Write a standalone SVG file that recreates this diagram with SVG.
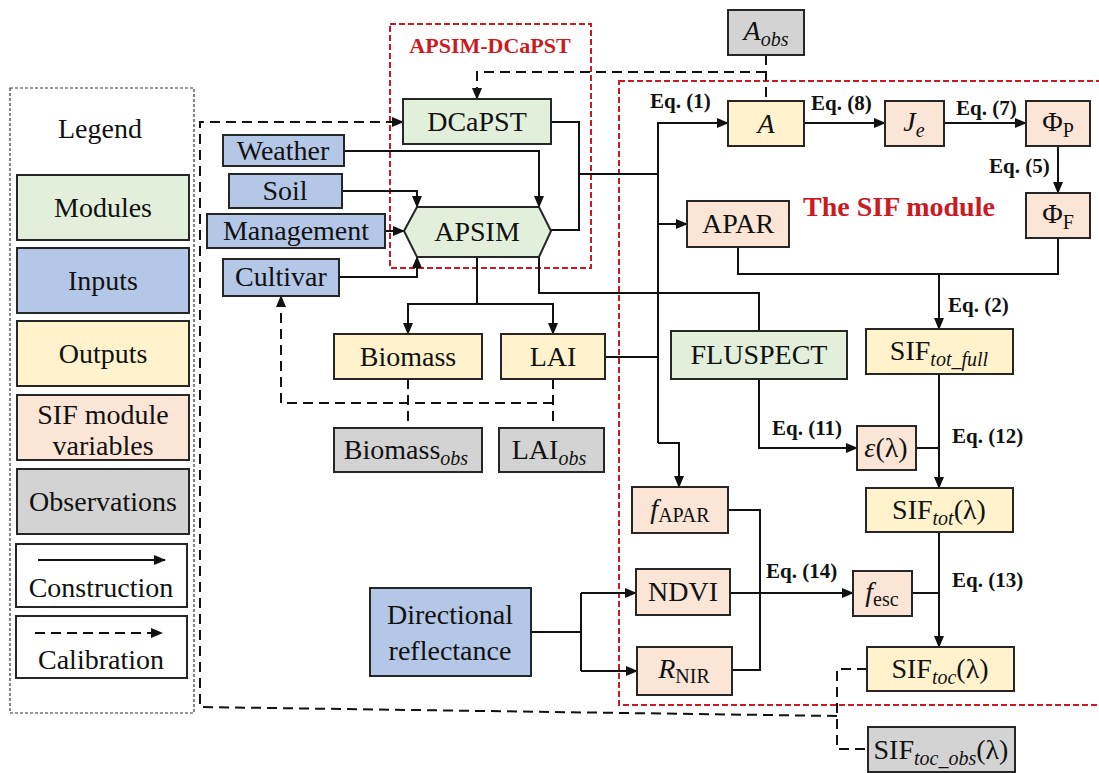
<svg xmlns="http://www.w3.org/2000/svg" width="1099" height="773" viewBox="0 0 1099 773">
<style>
.bx{stroke:#262626;stroke-width:2}
.g{fill:#e2efda}.b{fill:#b4c7e7}.y{fill:#fff2cc}.p{fill:#fbe5d6}.o{fill:#d3d3d3}.w{fill:#fff}
.t{font-family:"Liberation Serif","Times New Roman",serif;font-size:28px;text-anchor:middle;fill:#111}
.eq{font-family:"Liberation Serif","Times New Roman",serif;font-size:21px;font-weight:bold;fill:#111}
.red{font-family:"Liberation Serif","Times New Roman",serif;font-weight:bold;fill:#cc1a22}
.c{fill:none;stroke:#111;stroke-width:2}
.d{stroke-dasharray:10 6}
.rb{fill:none;stroke:#cc1a22;stroke-width:2;stroke-dasharray:6 3}
.i{font-style:italic}
</style>
<defs>
<marker id="ah" markerUnits="userSpaceOnUse" markerWidth="12" markerHeight="10" refX="11" refY="5" orient="auto">
<path d="M0,0 L12,5 L0,10 z" fill="#111"/>
</marker>
</defs>
<rect width="1099" height="773" fill="#fff"/>

<!-- red group boxes -->
<rect class="rb" x="390" y="24" width="201" height="244"/>
<text class="red" x="490" y="53" font-size="22" text-anchor="middle">APSIM-DCaPST</text>
<rect class="rb" x="619" y="81" width="485" height="624"/>
<text class="red" x="803" y="216" font-size="28">The SIF module</text>

<!-- Legend -->
<g id="legend">
<rect x="10" y="88" width="184" height="625" fill="none" stroke="#333" stroke-width="1.2" stroke-dasharray="3 2"/>
<text class="t" x="100" y="138">Legend</text>
<rect class="bx g" x="17" y="175" width="172" height="65"/><text class="t" x="103" y="217">Modules</text>
<rect class="bx b" x="17" y="248" width="172" height="65"/><text class="t" x="103" y="290">Inputs</text>
<rect class="bx y" x="17" y="321" width="172" height="65"/><text class="t" x="103" y="363">Outputs</text>
<rect class="bx p" x="17" y="395" width="172" height="65"/><text class="t" x="103" y="424">SIF module</text><text class="t" x="103" y="455">variables</text>
<rect class="bx o" x="17" y="469" width="172" height="65"/><text class="t" x="103" y="511">Observations</text>
<rect class="bx w" x="16" y="544" width="171" height="63"/>
<path class="c" d="M38 560 H165" marker-end="url(#ah)"/>
<text class="t" x="101" y="597">Construction</text>
<rect class="bx w" x="16" y="616" width="171" height="62"/>
<path class="c d" d="M35 633 H162" marker-end="url(#ah)"/>
<text class="t" x="101" y="669">Calibration</text>
</g>

<!-- connectors -->
<g id="connectors">
<path class="c" d="M344 151 H539 V207" marker-end="url(#ah)"/>
<path class="c" d="M342 191 H417 V207" marker-end="url(#ah)"/>
<path class="c" d="M385 231 H404" marker-end="url(#ah)"/>
<path class="c" d="M339 277 H417 V257" marker-end="url(#ah)"/>
<path class="c" d="M551 122 H579 V230 H551"/>
<path class="c" d="M579 174 H658"/>
<path class="c" d="M658 443 V123 H728" marker-end="url(#ah)"/>
<path class="c" d="M658 443 H679 V487" marker-end="url(#ah)"/>
<path class="c" d="M658 224 H687" marker-end="url(#ah)"/>
<path class="c" d="M605 357 H658"/>
<path class="c" d="M539 257 V293 H759 V331"/>
<path class="c" d="M477 257 V304 H408 V334" marker-end="url(#ah)"/>
<path class="c" d="M477 304 H553 V334" marker-end="url(#ah)"/>
<path class="c" d="M804 123 H885" marker-end="url(#ah)"/>
<path class="c" d="M944 123 H1026" marker-end="url(#ah)"/>
<path class="c" d="M1058 146 V193" marker-end="url(#ah)"/>
<path class="c" d="M738 247 V274 H1058 V238"/>
<path class="c" d="M939 274 V329" marker-end="url(#ah)"/>
<path class="c" d="M759 379 V448 H857" marker-end="url(#ah)"/>
<path class="c" d="M916 448 H939"/>
<path class="c" d="M939 374 V488" marker-end="url(#ah)"/>
<path class="c" d="M728 510 H760 V670 H732"/>
<path class="c" d="M730 593 H853" marker-end="url(#ah)"/>
<path class="c" d="M531 632 H581"/>
<path class="c" d="M581 593 V671"/>
<path class="c" d="M581 593 H636" marker-end="url(#ah)"/>
<path class="c" d="M581 671 H637" marker-end="url(#ah)"/>
<path class="c" d="M912 593 H939"/>
<path class="c" d="M939 532 V647" marker-end="url(#ah)"/>
<!-- calibration (dashed) -->
<path class="c d" d="M766 55 V101"/>
<path class="c d" d="M766 72 H477 V99" marker-end="url(#ah)"/>
<path class="c d" d="M837 716 L200 707 V122 H403" marker-end="url(#ah)"/>
<path class="c d" d="M867 669 H837 V749 H868"/>
<path class="c d" d="M408 379 V428"/>
<path class="c d" d="M553 379 V428"/>
<path class="c d" d="M553 403 H281 V296" marker-end="url(#ah)"/>
<!-- equation labels -->
<text class="eq" x="650" y="108">Eq. (1)</text>
<text class="eq" x="811" y="110">Eq. (8)</text>
<text class="eq" x="956" y="115">Eq. (7)</text>
<text class="eq" x="989" y="173">Eq. (5)</text>
<text class="eq" x="948" y="312">Eq. (2)</text>
<text class="eq" x="772" y="435">Eq. (11)</text>
<text class="eq" x="952" y="443">Eq. (12)</text>
<text class="eq" x="766" y="578">Eq. (14)</text>
<text class="eq" x="952" y="587">Eq. (13)</text>
</g>

<!-- nodes -->
<g id="n-dcapst"><rect class="bx g" x="403" y="99" width="148" height="45"/><text class="t" x="477" y="131">DCaPST</text></g>
<g id="n-weather"><rect class="bx b" x="223" y="135" width="121" height="31"/><text class="t" x="283" y="160">Weather</text></g>
<g id="n-soil"><rect class="bx b" x="229" y="174" width="113" height="34"/><text class="t" x="285" y="200">Soil</text></g>
<g id="n-management"><rect class="bx b" x="207" y="214" width="178" height="34"/><text class="t" x="296" y="240">Management</text></g>
<g id="n-cultivar"><rect class="bx b" x="223" y="259" width="116" height="37"/><text class="t" x="281" y="286">Cultivar</text></g>
<g id="n-apsim"><polygon class="bx g" points="404,231 417,207 539,207 551,231 539,257 417,257"/><text class="t" x="477" y="241">APSIM</text></g>
<g id="n-biomass"><rect class="bx y" x="334" y="334" width="148" height="45"/><text class="t" x="408" y="366">Biomass</text></g>
<g id="n-lai"><rect class="bx y" x="501" y="334" width="104" height="45"/><text class="t" x="553" y="366">LAI</text></g>
<g id="n-biomass-obs"><rect class="bx o" x="334" y="428" width="148" height="44"/><text class="t" x="406" y="459">Biomass<tspan class="i" font-size="20" dy="6">obs</tspan></text></g>
<g id="n-lai-obs"><rect class="bx o" x="499" y="428" width="105" height="44"/><text class="t" x="549" y="459">LAI<tspan class="i" font-size="20" dy="6">obs</tspan></text></g>
<g id="n-aobs"><rect class="bx o" x="728" y="10" width="76" height="45"/><text class="t" x="766" y="40"><tspan class="i">A</tspan><tspan class="i" font-size="20" dy="6">obs</tspan></text></g>
<g id="n-a"><rect class="bx y" x="728" y="101" width="76" height="45"/><text class="t i" x="766" y="133">A</text></g>
<g id="n-je"><rect class="bx p" x="885" y="101" width="59" height="45"/><text class="t" x="914" y="131"><tspan class="i">J</tspan><tspan class="i" font-size="20" dy="6">e</tspan></text></g>
<g id="n-phip"><rect class="bx p" x="1026" y="101" width="64" height="45"/><text class="t" x="1058" y="131">Φ<tspan font-size="20" dy="6">P</tspan></text></g>
<g id="n-phif"><rect class="bx p" x="1026" y="193" width="64" height="45"/><text class="t" x="1058" y="223">Φ<tspan font-size="20" dy="6">F</tspan></text></g>
<g id="n-apar"><rect class="bx p" x="687" y="201" width="102" height="46"/><text class="t" x="738" y="233">APAR</text></g>
<g id="n-fluspect"><rect class="bx g" x="671" y="331" width="176" height="48"/><text class="t" x="759" y="364">FLUSPECT</text></g>
<g id="n-sif-tot-full"><rect class="bx y" x="866" y="329" width="147" height="45"/><text class="t" x="939" y="360">SIF<tspan class="i" font-size="20" dy="6">tot_full</tspan></text></g>
<g id="n-eps"><rect class="bx p" x="857" y="426" width="59" height="44"/><text class="t" x="886" y="457"><tspan class="i">ε</tspan>(λ)</text></g>
<g id="n-sif-tot"><rect class="bx y" x="866" y="488" width="147" height="44"/><text class="t" x="939" y="519">SIF<tspan class="i" font-size="20" dy="6">tot</tspan><tspan dy="-6">(λ)</tspan></text></g>
<g id="n-fapar"><rect class="bx p" x="632" y="487" width="96" height="46"/><text class="t" x="680" y="518"><tspan class="i">f</tspan><tspan font-size="20" dy="4">APAR</tspan></text></g>
<g id="n-ndvi"><rect class="bx p" x="636" y="569" width="94" height="46"/><text class="t" x="683" y="601">NDVI</text></g>
<g id="n-rnir"><rect class="bx p" x="637" y="647" width="95" height="48"/><text class="t" x="684" y="678"><tspan class="i">R</tspan><tspan font-size="20" dy="5">NIR</tspan></text></g>
<g id="n-dirrefl"><rect class="bx b" x="370" y="588" width="161" height="88"/><text class="t" x="450" y="624">Directional</text><text class="t" x="450" y="660">reflectance</text></g>
<g id="n-fesc"><rect class="bx p" x="853" y="571" width="59" height="45"/><text class="t" x="882" y="601"><tspan class="i">f</tspan><tspan font-size="20" dy="5">esc</tspan></text></g>
<g id="n-sif-toc"><rect class="bx y" x="867" y="647" width="147" height="44"/><text class="t" x="940" y="678">SIF<tspan class="i" font-size="20" dy="6">toc</tspan><tspan dy="-6">(λ)</tspan></text></g>
<g id="n-sif-toc-obs"><rect class="bx o" x="868" y="727" width="147" height="45"/><text class="t" x="941" y="759">SIF<tspan class="i" font-size="20" dy="6">toc_obs</tspan><tspan dy="-6">(λ)</tspan></text></g>
</svg>
